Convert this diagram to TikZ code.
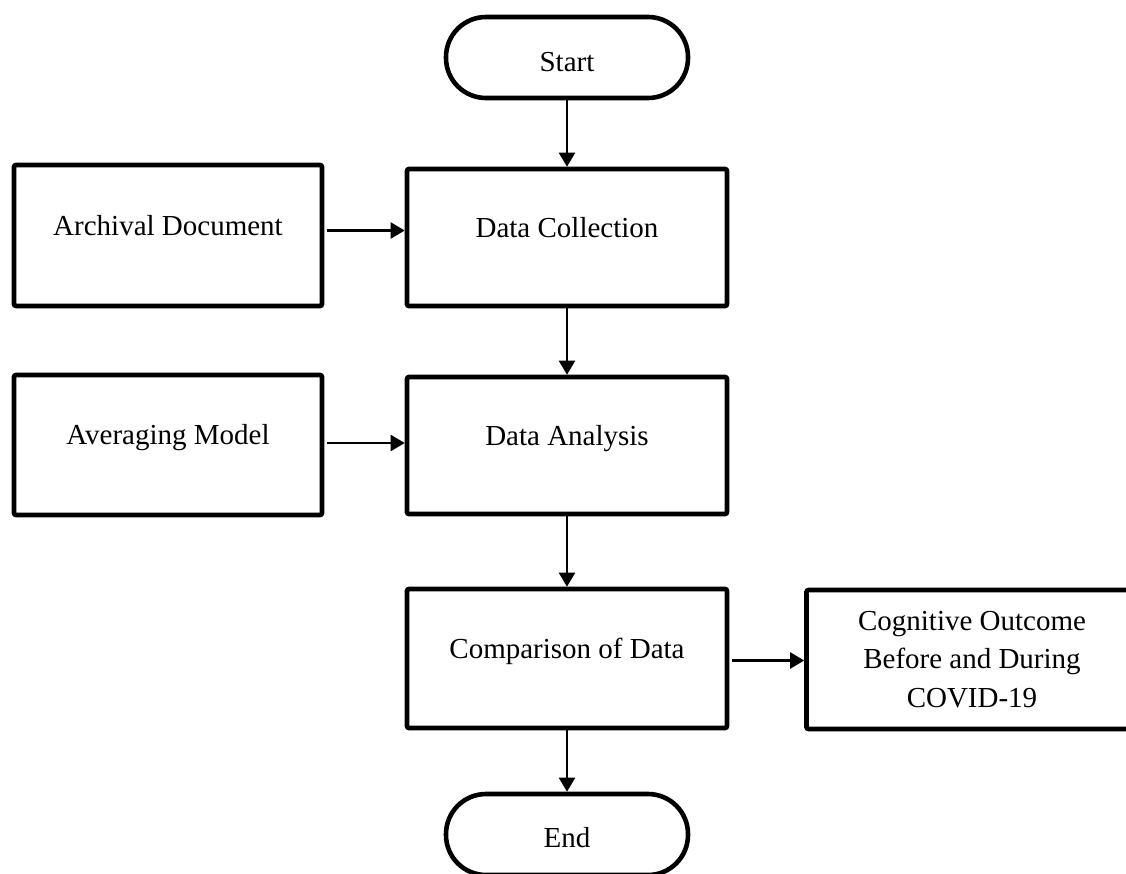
\documentclass[tikz,border=0pt]{standalone}
\usepackage{fontspec}
\setmainfont{Liberation Serif}
\usetikzlibrary{arrows.meta}
\begin{document}
\begin{tikzpicture}[x=1pt,y=-1pt,
  font=\fontsize{29}{38.5}\selectfont,
  box/.style={draw=black,line width=4.6pt,rounded corners=2pt,rectangle,inner sep=0pt,align=center},
  upbox/.style={box,text height=21pt,text depth=22pt},
  term/.style={draw=black,line width=4.6pt,rectangle,rounded corners=40pt,inner sep=0pt,
    minimum width=242pt,minimum height=81pt,text height=28pt,text depth=0pt},
  arr/.style={line width=2.2pt,-{Triangle[length=14pt,width=16pt]}}]
\useasboundingbox (0,0) rectangle (1126,873);
\node[term] (start) at (567,57.5) {Start};
\node[upbox,minimum width=320pt,minimum height=137pt] (dc) at (567,237.5) {Data Collection};
\node[upbox,minimum width=320pt,minimum height=137pt] (da) at (567,445.5) {Data Analysis};
\node[upbox,minimum width=320pt,minimum height=139pt] (cmp) at (567,658.5) {Comparison of Data};
\node[upbox,minimum width=308pt,minimum height=141pt] (arch) at (168,235.5) {Archival Document};
\node[upbox,minimum width=308pt,minimum height=140pt] (avg) at (168,445) {Averaging Model};
\node[box,minimum width=331pt,minimum height=139pt] (cog) at (972,659.5) {Cognitive Outcome\\Before and During\\COVID-19};
\node[term,text height=26pt] (end) at (567,834.5) {End};
\draw[arr] (start.south) -- (dc.north);
\draw[arr] (dc.south) -- (da.north);
\draw[arr] (da.south) -- (cmp.north);
\draw[arr] (cmp.south) -- (end.north);
\draw[arr,shorten <=3pt] ([yshift=5pt]arch.east) -- ([yshift=5pt]arch.east -| dc.west);
\draw[arr,shorten <=3pt] ([yshift=2pt]avg.east) -- ([yshift=2pt]avg.east -| da.west);
\draw[arr,shorten <=3pt] ([yshift=-2pt]cmp.east) -- ([yshift=-2pt]cmp.east -| cog.west);
\end{tikzpicture}
\end{document}
